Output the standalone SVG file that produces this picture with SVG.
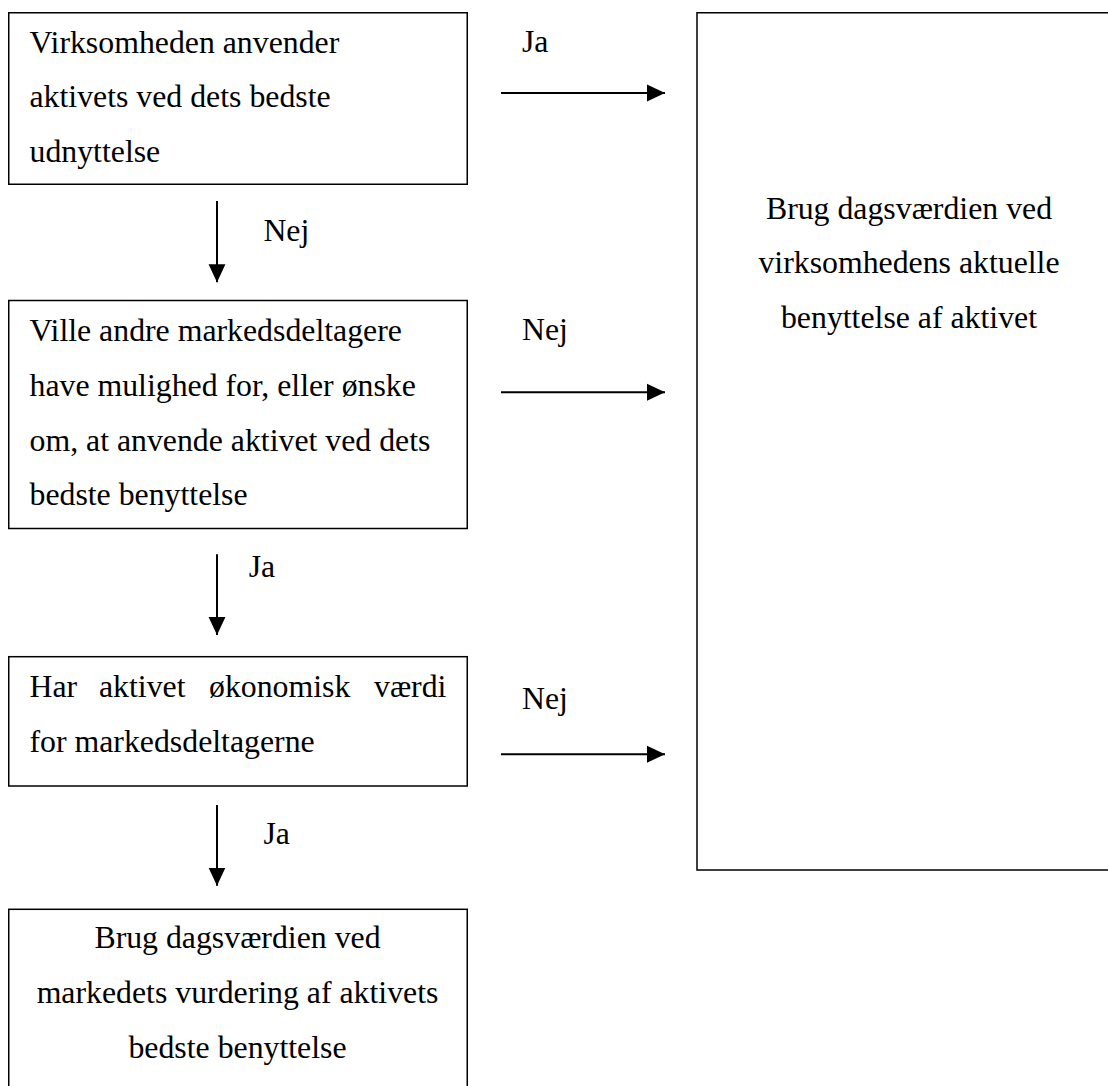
<svg xmlns="http://www.w3.org/2000/svg" width="1108" height="1086" viewBox="0 0 1108 1086">
<defs>
<style>
.box{fill:#fff;stroke:#000;stroke-width:1.5}
.t{font-family:"Liberation Serif","Times New Roman",serif;font-size:31.8px;fill:#000}
.c{text-anchor:middle}
.conn{stroke:#000;stroke-width:2;fill:none}
</style>
<marker id="ah" markerUnits="userSpaceOnUse" markerWidth="18" markerHeight="18" viewBox="0 0 16 16" refX="16" refY="8" orient="auto">
<path d="M0,0.5 L16,8 L0,15.5 Z" fill="#000"/>
</marker>
</defs>
<rect width="1108" height="1086" fill="#fff"/>
<g id="n1">
<rect class="box" x="8.75" y="12.75" width="458.5" height="171.5"/>
<text class="t"><tspan x="29.5" y="52.7">Virksomheden anvender</tspan><tspan x="29.5" y="107.3">aktivets ved dets bedste</tspan><tspan x="29.5" y="161.7">udnyttelse</tspan></text>
</g>
<g id="n2">
<rect class="box" x="8.75" y="300.5" width="458.5" height="228"/>
<text class="t"><tspan x="29.5" y="341">Ville andre markedsdeltagere</tspan><tspan x="29.5" y="396">have mulighed for, eller ønske</tspan><tspan x="29.5" y="450.7">om, at anvende aktivet ved dets</tspan><tspan x="29.5" y="505">bedste benyttelse</tspan></text>
</g>
<g id="n3">
<rect class="box" x="8.75" y="656.7" width="458.5" height="129.3"/>
<text class="t"><tspan x="29.5" y="696.7">Har</tspan><tspan x="99" y="696.7">aktivet</tspan><tspan x="209" y="696.7">økonomisk</tspan><tspan x="374" y="696.7">værdi</tspan><tspan x="29.5" y="751.7">for markedsdeltagerne</tspan></text>
</g>
<g id="n4">
<rect class="box" x="8.75" y="909.3" width="458.5" height="200"/>
<text class="t c"><tspan x="237.5" y="948.3">Brug dagsværdien ved</tspan><tspan x="237.5" y="1003.3">markedets vurdering af aktivets</tspan><tspan x="237.5" y="1058.3">bedste benyttelse</tspan></text>
</g>
<g id="n5">
<rect class="box" x="697" y="12.75" width="500" height="857.25"/>
<text class="t c"><tspan x="909" y="219">Brug dagsværdien ved</tspan><tspan x="909" y="273.3">virksomhedens aktuelle</tspan><tspan x="909" y="327.7">benyttelse af aktivet</tspan></text>
</g>
<g id="connectors">
<line class="conn" x1="501" y1="93" x2="665" y2="93" marker-end="url(#ah)"/>
<line class="conn" x1="501" y1="392.3" x2="665" y2="392.3" marker-end="url(#ah)"/>
<line class="conn" x1="501" y1="754.3" x2="665" y2="754.3" marker-end="url(#ah)"/>
<line class="conn" x1="217" y1="201" x2="217" y2="282.3" marker-end="url(#ah)"/>
<line class="conn" x1="217" y1="554.3" x2="217" y2="635" marker-end="url(#ah)"/>
<line class="conn" x1="217" y1="805" x2="217" y2="885.7" marker-end="url(#ah)"/>
<text class="t" x="522" y="51.7">Ja</text>
<text class="t" x="522" y="340">Nej</text>
<text class="t" x="522" y="709">Nej</text>
<text class="t" x="263.4" y="240.7">Nej</text>
<text class="t" x="248.7" y="577.3">Ja</text>
<text class="t" x="263.4" y="844">Ja</text>
</g>
</svg>
